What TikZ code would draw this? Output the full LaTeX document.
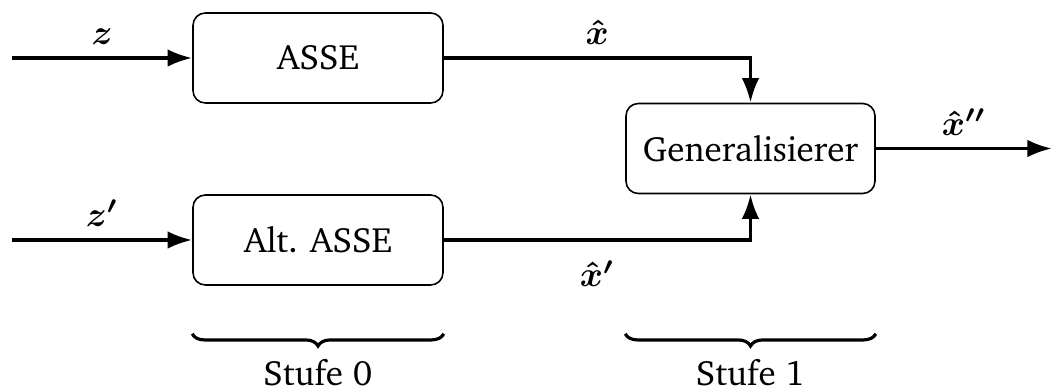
\documentclass[tikz,border=0pt]{standalone}
\usepackage[T1]{fontenc}
\usepackage{charter}
\usepackage{amsmath}
\usetikzlibrary{arrows.meta,decorations.pathreplacing}

\tikzset{
  block/.style={draw, line width=0.45pt, rounded corners=3.5pt,
    minimum width=2.5cm, minimum height=0.9cm},
  sig/.style={line width=1pt, -{Latex[length=7pt,width=5pt]}},
  brc/.style={decorate, decoration={brace, mirror, amplitude=3.5pt}, line width=0.9pt}
}

\begin{document}
\begin{tikzpicture}
\useasboundingbox (0,0) rectangle (10.53,3.9);

% stage 0
\node[block] (asse) at (3.18,3.32) {ASSE};
\node[block] (alt) at (3.18,1.50) {Alt. ASSE};
% stage 1
\node[block, minimum width=2.49cm] (gen) at (7.505,2.415) {Generalisierer};

\coordinate (zin) at (0.12,3.32);
\coordinate (zin2) at (0.12,1.50);
\coordinate (xout) at (10.52,2.415);

\draw[sig] (zin) -- node[above] {$\boldsymbol{z}$} (asse);
\draw[sig] (zin2) -- node[above] {$\boldsymbol{z'}$} (alt);
\draw[sig] (asse) -| node[pos=0.25, above] {$\boldsymbol{\hat{x}}$} (gen);
\draw[sig] (alt) -| node[pos=0.25, below=2pt] {$\boldsymbol{\hat{x}'}$} (gen);
\draw[sig] (gen) -- node[above] {$\boldsymbol{\hat{x}''}$} (xout);

% stages
\coordinate (b0) at ([yshift=-0.48cm]alt.south west);
\coordinate (b1) at ([yshift=-0.48cm]alt.south east);
\draw[brc] (b0) -- node[yshift=-0.39cm] {Stufe 0} (b1);
\draw[brc] (gen.west |- b0) -- node[yshift=-0.39cm] {Stufe 1} (gen.east |- b0);
\end{tikzpicture}
\end{document}
